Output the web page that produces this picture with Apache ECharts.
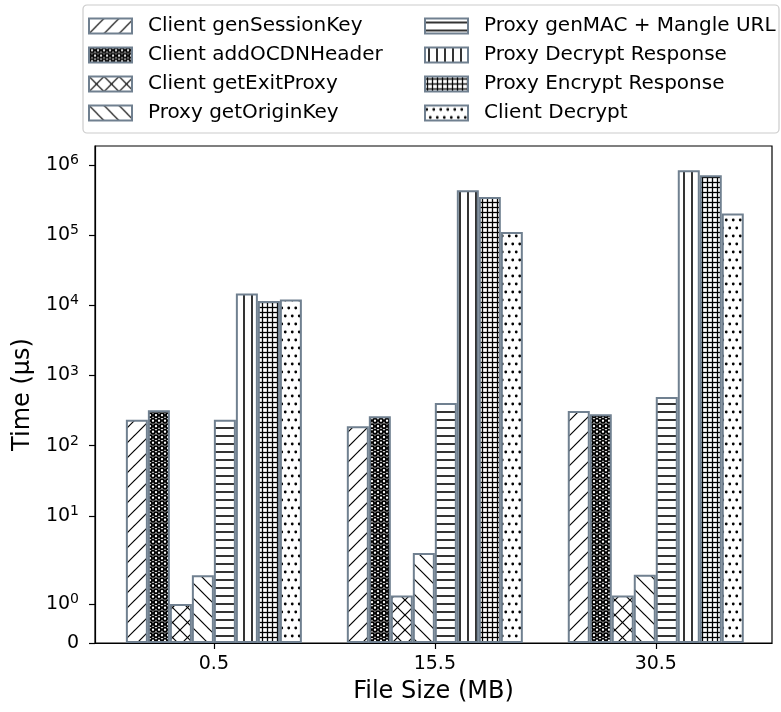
<!DOCTYPE html>
<html>
<head>
<meta charset="utf-8">
<script src="https://cdn.jsdelivr.net/npm/echarts@6/dist/echarts.min.js"></script>
<style>
  html, body { margin: 0; padding: 0; background: #fff; }
  #container { width: 781px; height: 712px; }
</style>
</head>
<body>
<div id="container"></div>
<script>
// data
var categories = ['0.5', '15.5', '30.5'];
var seriesNames = [
    'Client genSessionKey', 'Client addOCDNHeader', 'Client getExitProxy', 'Proxy getOriginKey',
    'Proxy genMAC + Mangle URL', 'Proxy Decrypt Response', 'Proxy Encrypt Response', 'Client Decrypt'
];
var genSessionKey = [235, 189, 313];
var addOCDNHeader = [320, 262, 281];
var getExitProxy = [1.0, 1.22, 1.22];
var getOriginKey = [1.74, 2.97, 1.75];
var genMacMangle = [235, 406, 494];
var decryptResponse = [14700, 435000, 839000];
var encryptResponse = [11500, 349000, 711000];
var clientDecrypt = [12100, 111000, 203000];
var yTickValues = [0, 1, 10, 100, 1000, 10000, 100000, 1000000];
var yTickLabels = ['0', '10{sup|0}', '10{sup|1}', '10{sup|2}', '10{sup|3}', '10{sup|4}', '10{sup|5}', '10{sup|6}'];

// symlog like matplotlib (linthresh=2, linscale=1), result in decades
var LINTHRESH = 2;
var LINSCALE = 1 / (1 - 1 / 10);
function symlog(x) {
    if (x <= LINTHRESH) {
        return x * LINSCALE / LINTHRESH;
    }
    return LINSCALE + Math.log10(x / LINTHRESH);
}

// hatch patterns
function makePattern(w, h, draw) {
    var c = document.createElement('canvas');
    c.width = w;
    c.height = h;
    var ctx = c.getContext('2d');
    ctx.fillStyle = '#fff';
    ctx.fillRect(0, 0, w, h);
    ctx.strokeStyle = '#000';
    ctx.fillStyle = '#000';
    draw(ctx, w, h);
    return { image: c, repeat: 'repeat' };
}
function line(ctx, x1, y1, x2, y2) {
    ctx.beginPath();
    ctx.moveTo(x1, y1);
    ctx.lineTo(x2, y2);
    ctx.stroke();
}
function slash(ctx, s) {
    line(ctx, -1, s + 1, s + 1, -1);
    line(ctx, -1, 1, 1, -1);
    line(ctx, s - 1, s + 1, s + 1, s - 1);
}
function backslash(ctx, s) {
    line(ctx, -1, -1, s + 1, s + 1);
    line(ctx, -1, s - 1, 1, s + 1);
    line(ctx, s - 1, -1, s + 1, 1);
}
function ring(ctx, x, y, r) {
    ctx.beginPath();
    ctx.arc(x, y, r, 0, Math.PI * 2);
    ctx.stroke();
}
function dot(ctx, x, y, r) {
    ctx.beginPath();
    ctx.arc(x, y, r, 0, Math.PI * 2);
    ctx.fill();
}
var patterns = [
    makePattern(15, 15, function (ctx) { ctx.lineWidth = 1.2; slash(ctx, 15); }),
    makePattern(6, 11, function (ctx) {
        ctx.lineWidth = 1.9;
        ring(ctx, 3, 2.75, 2.1);
        ring(ctx, 3, 13.75, 2.1);
        ring(ctx, 3, -8.25, 2.1);
        ring(ctx, 0, 8.25, 2.1);
        ring(ctx, 6, 8.25, 2.1);
    }),
    makePattern(15, 15, function (ctx) { ctx.lineWidth = 1.2; slash(ctx, 15); backslash(ctx, 15); }),
    makePattern(15, 15, function (ctx) { ctx.lineWidth = 1.2; backslash(ctx, 15); }),
    makePattern(8, 8, function (ctx) { ctx.lineWidth = 1.6; line(ctx, 0, 4, 8, 4); }),
    makePattern(8, 8, function (ctx) { ctx.lineWidth = 1.6; line(ctx, 4, 0, 4, 8); }),
    makePattern(5, 5, function (ctx) { ctx.lineWidth = 1.3; line(ctx, 0, 2.5, 5, 2.5); line(ctx, 2.5, 0, 2.5, 5); }),
    makePattern(7, 16, function (ctx) {
        dot(ctx, 1.75, 4, 1.4);
        dot(ctx, 5.25, 12, 1.4);
    })
];

var allValues = [genSessionKey, addOCDNHeader, getExitProxy, getOriginKey,
    genMacMangle, decryptResponse, encryptResponse, clientDecrypt];

var series = [];
for (var i = 0; i < allValues.length; i++) {
    var pts = [];
    for (var j = 0; j < allValues[i].length; j++) {
        pts.push([j, symlog(allValues[i][j])]);
    }
    series.push({
        name: seriesNames[i],
        type: 'bar',
        barWidth: 22,
        barGap: '0%',
        data: pts,
        itemStyle: {
            color: patterns[i],
            borderColor: '#708090',
            borderWidth: 2
        },
        emphasis: { disabled: true }
    });
}

var yTickPos = yTickValues.map(symlog);
var font = 'DejaVu Sans';

var legendCommon = {
    orient: 'vertical',
    top: 16,
    padding: 0,
    itemWidth: 43,
    itemHeight: 15,
    itemGap: 9,
    icon: 'rect',
    textStyle: { fontFamily: font, fontSize: 20, color: '#000', padding: [0, 0, 0, 11] }
};

var dom = document.getElementById('container');
var myChart = echarts.init(dom);
var option = {
    animation: false,
    backgroundColor: '#fff',
    graphic: [{
        type: 'rect',
        z: -1,
        shape: { x: 83, y: 5, width: 696, height: 128, r: 4 },
        style: { fill: '#fff', stroke: '#cccccc', lineWidth: 1.2 }
    }],
    legend: [
        Object.assign({ left: 88, data: seriesNames.slice(0, 4) }, legendCommon),
        Object.assign({ left: 424, data: seriesNames.slice(4) }, legendCommon)
    ],
    grid: {
        left: 95,
        right: 9,
        top: 146,
        bottom: 69,
        show: true,
        borderColor: '#000',
        borderWidth: 1.2,
        backgroundColor: 'transparent'
    },
    xAxis: {
        type: 'value',
        min: -0.538,
        max: 2.526,
        name: 'File Size (MB)',
        nameLocation: 'middle',
        nameGap: 37,
        nameTextStyle: { fontFamily: font, fontSize: 24, color: '#000' },
        splitLine: { show: false },
        axisLine: { show: true, onZero: false, lineStyle: { color: '#000', width: 1.2 } },
        axisTick: { show: true, length: 6, customValues: [0, 1, 2], lineStyle: { color: '#000', width: 1.2 } },
        axisLabel: {
            customValues: [0, 1, 2],
            margin: 12,
            fontFamily: font,
            fontSize: 19,
            color: '#000',
            formatter: function (v) { return categories[Math.round(v)]; }
        }
    },
    yAxis: {
        type: 'value',
        min: 0,
        max: 7.08,
        name: 'Time (μs)',
        nameLocation: 'middle',
        nameGap: 45,
        nameRotate: 90,
        nameTextStyle: { fontFamily: font, fontSize: 24, color: '#000' },
        splitLine: { show: false },
        axisLine: { show: true, onZero: false, lineStyle: { color: '#000', width: 1.2 } },
        axisTick: { show: true, length: 6, customValues: yTickPos, lineStyle: { color: '#000', width: 1.2 } },
        axisLabel: {
            customValues: yTickPos,
            margin: 16,
            fontFamily: font,
            fontSize: 19,
            color: '#000',
            formatter: function (v) {
                for (var k = 0; k < yTickPos.length; k++) {
                    if (Math.abs(yTickPos[k] - v) < 1e-6) {
                        return yTickLabels[k];
                    }
                }
                return '';
            },
            rich: {
                sup: { fontFamily: font, fontSize: 14, color: '#000', padding: [0, 0, 9, 0] }
            }
        }
    },
    series: series
};
if (option && typeof option === "object") {
    myChart.setOption(option, true);
}
</script>
</body>
</html>
